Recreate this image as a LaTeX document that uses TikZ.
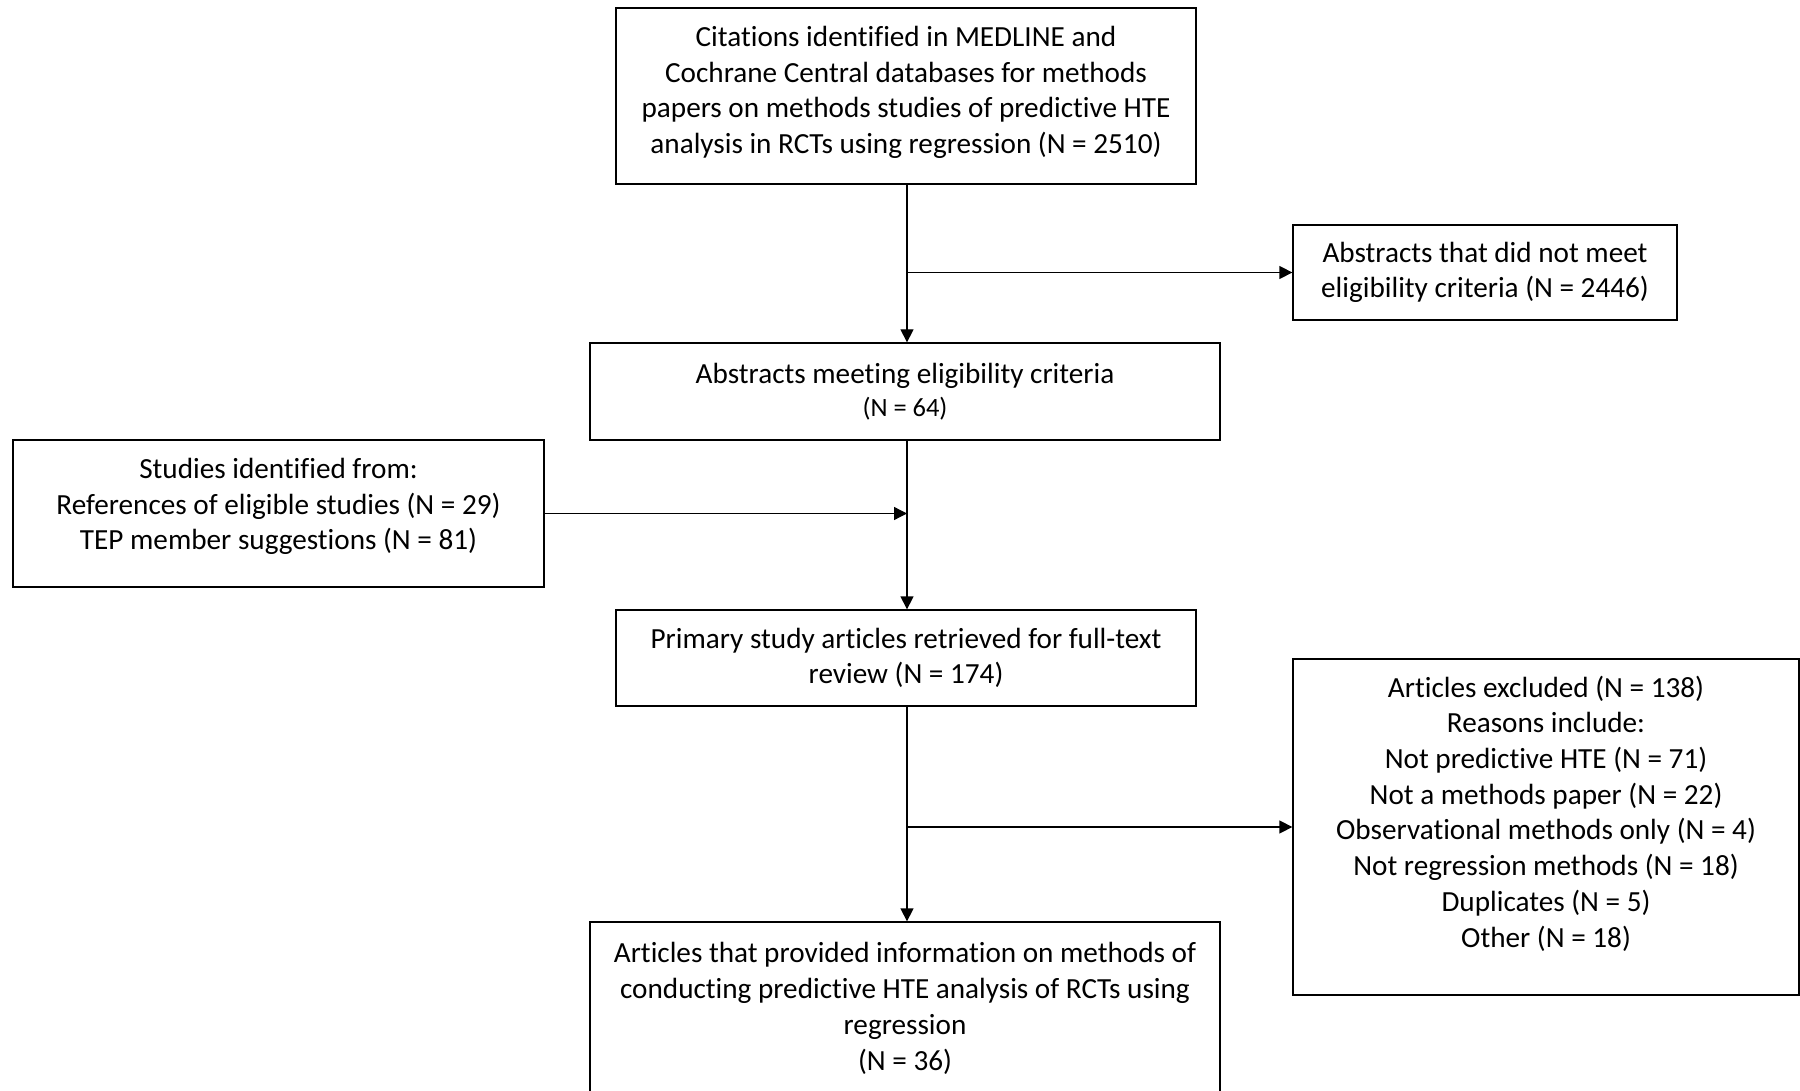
\documentclass[tikz,border=0pt]{standalone}
\usepackage{fontspec}
\setmainfont{Carlito}[Ligatures={CommonOff}]
\usetikzlibrary{arrows.meta}
\begin{document}
\begin{tikzpicture}[x=0.5pt,y=-0.5pt,
  box/.style={draw, line width=0.65pt, align=center, inner sep=0pt,
    font=\fontsize{14.6pt}{17.85pt}\selectfont},
  arr/.style={line width=0.65pt, -{Triangle[length=6.5pt,width=6.5pt]}}]
\useasboundingbox[fill=white] (0,0) rectangle (1800,1091);

\node[box, minimum width=290pt, minimum height=88pt] (b1) at (906,96)
  {Citations identified in MEDLINE and\\
   Cochrane Central databases for methods\\
   papers on methods studies of predictive HTE\\
   analysis in RCTs using regression (N = 2510)\\[-11.65pt]\mbox{}};

\node[box, minimum width=192pt, minimum height=47.5pt] (b3) at (1485,272.5)
  {Abstracts that did not meet\\
   eligibility criteria (N = 2446)};

\node[box, minimum width=315pt, minimum height=48.5pt] (b2) at (905,391.5)
  {Abstracts meeting eligibility criteria\\[-1.5pt]
   {\fontsize{13.2pt}{15pt}\selectfont (N = 64)}};

\node[box, minimum width=265.5pt, minimum height=73.5pt] (bs) at (278.5,513.5)
  {Studies identified from:\\
   References of eligible studies (N = 29)\\
   TEP member suggestions (N = 81)\\[-8.25pt]\mbox{}};

\node[box, minimum width=290pt, minimum height=48pt] (b4) at (906,658)
  {Primary study articles retrieved for full-text\\
   review (N = 174)};

\node[box, minimum width=253pt, minimum height=168pt] (b5) at (1546,827)
  {Articles excluded (N = 138)\\
   Reasons include:\\
   Not predictive HTE (N = 71)\\
   Not a methods paper (N = 22)\\
   Observational methods only (N = 4)\\
   Not regression methods (N = 18)\\
   Duplicates (N = 5)\\
   Other (N = 18)\\[-2.25pt]\mbox{}};

\node[box, minimum width=315pt, minimum height=100pt] (b6) at (905,1022)
  {Articles that provided information on methods of\\
   conducting predictive HTE analysis of RCTs using\\
   regression\\
   (N = 36)\\[-2.25pt]\mbox{}};

\coordinate (x0) at (907,0);
\draw[arr] (b1.south -| x0) -- (b2.north -| x0);
\draw[arr] (b3.west -| x0) -- (b3.west);
\draw[arr] (b2.south -| x0) -- (b4.north -| x0);
\draw[arr] (bs.east) -- (bs.east -| x0);
\draw[arr] (b4.south -| x0) -- (b6.north -| x0);
\draw[arr] (b5.west -| x0) -- (b5.west);
\end{tikzpicture}
\end{document}
